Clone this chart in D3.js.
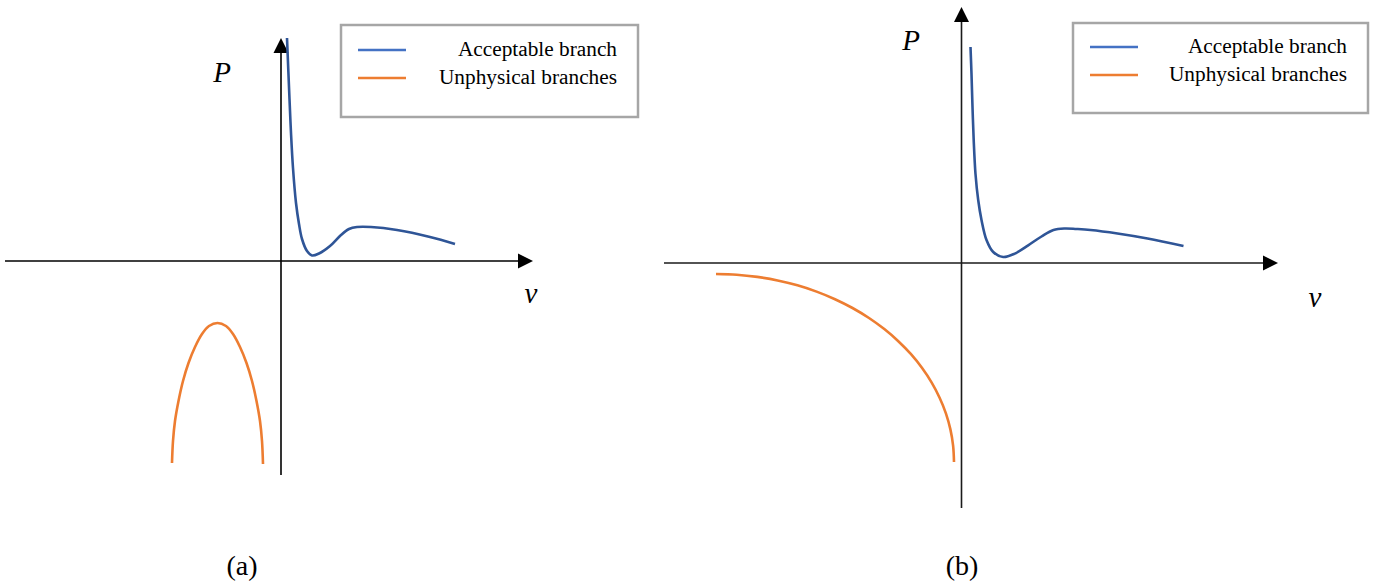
<!DOCTYPE html>
<html>
<head>
<meta charset="utf-8">
<script src="https://cdn.jsdelivr.net/npm/d3@7"></script>
<style>
  html, body { margin: 0; padding: 0; background: #fff; }
  text { font-family: "Liberation Serif", "Times New Roman", "DejaVu Serif", serif; }
</style>
</head>
<body>
<svg id="chart" width="1380" height="584"></svg>
<script>
// Panel (a): pressure P against specific volume v, branches as [v, P]
const acceptableA = [
  [0.06, 2.23], [0.085, 1.62], [0.10, 1.28], [0.12, 0.93], [0.15, 0.58],
  [0.18, 0.37], [0.21, 0.22], [0.26, 0.10], [0.31, 0.055], [0.38, 0.075],
  [0.49, 0.15], [0.60, 0.26], [0.68, 0.32], [0.76, 0.34], [0.90, 0.34],
  [1.16, 0.31], [1.49, 0.24], [1.74, 0.17]
];
const unphysicalA = [
  [-1.09, -2.02], [-1.08, -1.80], [-1.06, -1.60], [-1.025, -1.40], [-0.98, -1.20],
  [-0.925, -1.02], [-0.86, -0.86], [-0.79, -0.73], [-0.72, -0.65], [-0.635, -0.62],
  [-0.55, -0.65], [-0.48, -0.73], [-0.41, -0.86], [-0.345, -1.02], [-0.29, -1.20],
  [-0.245, -1.40], [-0.21, -1.60], [-0.19, -1.80], [-0.18, -2.03]
];

// Panel (b)
const acceptableB = [
  [0.09, 2.16], [0.10, 1.89], [0.11, 1.56], [0.122, 1.23], [0.14, 0.89],
  [0.167, 0.63], [0.20, 0.43], [0.25, 0.23], [0.317, 0.11], [0.417, 0.06],
  [0.533, 0.094], [0.667, 0.177], [0.80, 0.265], [0.92, 0.33], [1.03, 0.345],
  [1.15, 0.34], [1.29, 0.33], [1.56, 0.295], [1.86, 0.245], [2.22, 0.17]
];
const unphysicalB = [
  [-2.455, -0.110], [-2.248, -0.117], [-2.042, -0.139], [-1.839, -0.174], [-1.641, -0.223],
  [-1.449, -0.286], [-1.265, -0.362], [-1.090, -0.450], [-0.925, -0.550], [-0.772, -0.661],
  [-0.632, -0.782], [-0.505, -0.912], [-0.394, -1.050], [-0.298, -1.196], [-0.219, -1.347],
  [-0.156, -1.503], [-0.111, -1.664], [-0.084, -1.826], [-0.075, -1.990]
];

const legendLabels = ["Acceptable branch", "Unphysical branches"];
const panelCaptions = ["(a)", "(b)"];
const colors = { acceptable: "#2F5597", acceptableKey: "#4472C4", unphysical: "#ED7D31" };

const svg = d3.select("#chart");

const panels = [
  {
    caption: panelCaptions[0],
    x: d3.scaleLinear().domain([-2.76, 2.52]).range([5, 533]),
    y: d3.scaleLinear().domain([-2.14, 2.23]).range([475, 38]),
    axisColor: "#000",
    acceptable: acceptableA,
    unphysical: unphysicalA,
    pLabel: { x: 222, y: 82 },
    vLabel: { x: 531, y: 303 },
    legend: { x: 341, y: 25, w: 297, h: 92, keyX: 358, textX: 617, row1: 50, row2: 78 },
    captionPos: { x: 242, y: 575 }
  },
  {
    caption: panelCaptions[1],
    x: d3.scaleLinear().domain([-2.975, 3.165]).range([664, 1278]),
    y: d3.scaleLinear().domain([-2.45, 2.56]).range([508, 7]),
    axisColor: "#1a1a1a",
    acceptable: acceptableB,
    unphysical: unphysicalB,
    pLabel: { x: 911, y: 50 },
    vLabel: { x: 1315, y: 307 },
    legend: { x: 1073, y: 23, w: 295, h: 90, keyX: 1090, textX: 1347, row1: 47, row2: 75 },
    captionPos: { x: 962, y: 575 }
  }
];

panels.forEach(p => {
  const g = svg.append("g");
  const [x0, x1] = p.x.range();
  const [y0, y1] = p.y.range(); // bottom, top
  const ox = p.x(0), oy = p.y(0);
  const arrowLen = 15, arrowHalf = 7.5;

  // horizontal axis (v) with arrowhead
  g.append("line")
    .attr("x1", x0).attr("x2", x1 - arrowLen + 1)
    .attr("y1", oy).attr("y2", oy)
    .attr("stroke", p.axisColor).attr("stroke-width", 1.6);
  g.append("path")
    .attr("d", `M${x1},${oy} L${x1 - arrowLen},${oy - arrowHalf} L${x1 - arrowLen},${oy + arrowHalf} Z`)
    .attr("fill", "#000");

  // vertical axis (P) with arrowhead
  g.append("line")
    .attr("x1", ox).attr("x2", ox)
    .attr("y1", y0).attr("y2", y1 + arrowLen - 1)
    .attr("stroke", p.axisColor).attr("stroke-width", 1.6);
  g.append("path")
    .attr("d", `M${ox},${y1} L${ox - arrowHalf},${y1 + arrowLen} L${ox + arrowHalf},${y1 + arrowLen} Z`)
    .attr("fill", "#000");

  const line = d3.line()
    .x(d => p.x(d[0]))
    .y(d => p.y(d[1]))
    .curve(d3.curveCatmullRom.alpha(0.5));

  g.append("path").datum(p.unphysical)
    .attr("d", line)
    .attr("fill", "none")
    .attr("stroke", colors.unphysical)
    .attr("stroke-width", 2.6);

  g.append("path").datum(p.acceptable)
    .attr("d", line)
    .attr("fill", "none")
    .attr("stroke", colors.acceptable)
    .attr("stroke-width", 2.6);

  // axis symbols
  g.append("text")
    .attr("x", p.pLabel.x).attr("y", p.pLabel.y)
    .attr("text-anchor", "middle")
    .attr("font-style", "italic")
    .attr("font-size", 29)
    .text("P");
  g.append("text")
    .attr("x", p.vLabel.x).attr("y", p.vLabel.y)
    .attr("text-anchor", "middle")
    .attr("font-style", "italic")
    .attr("font-size", 29)
    .text("v");

  // legend
  const L = p.legend;
  g.append("rect")
    .attr("x", L.x).attr("y", L.y)
    .attr("width", L.w).attr("height", L.h)
    .attr("fill", "#fff")
    .attr("stroke", "#a6a6a6")
    .attr("stroke-width", 2.5);
  const keys = [
    { label: legendLabels[0], color: colors.acceptableKey, yy: L.row1 },
    { label: legendLabels[1], color: colors.unphysical, yy: L.row2 }
  ];
  keys.forEach(k => {
    g.append("line")
      .attr("x1", L.keyX).attr("x2", L.keyX + 48)
      .attr("y1", k.yy).attr("y2", k.yy)
      .attr("stroke", k.color).attr("stroke-width", 2.5);
    g.append("text")
      .attr("x", L.textX).attr("y", k.yy + 6)
      .attr("text-anchor", "end")
      .attr("font-size", 21.3)
      .attr("fill", "#000")
      .text(k.label);
  });

  // caption
  g.append("text")
    .attr("x", p.captionPos.x).attr("y", p.captionPos.y)
    .attr("text-anchor", "middle")
    .attr("font-size", 28)
    .text(p.caption);
});
</script>
</body>
</html>
